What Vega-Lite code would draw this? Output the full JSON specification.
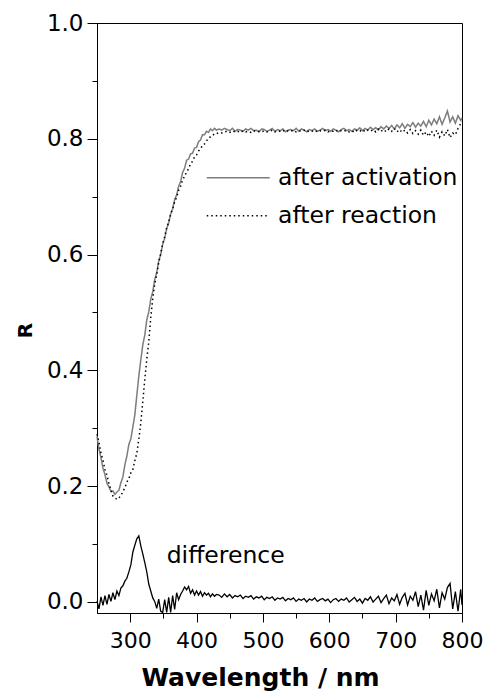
{
  "$schema": "https://vega.github.io/schema/vega-lite/v6.json",
  "width": 365,
  "height": 590,
  "autosize": {"type": "none"},
  "padding": {"left": 97, "top": 23, "right": 24, "bottom": 84},
  "background": "#ffffff",
  "config": {
    "view": {"stroke": "#000000", "strokeWidth": 1},
    "font": "DejaVu Sans",
    "axis": {"domainColor": "#000000", "tickColor": "#000000", "labelColor": "#000000", "titleColor": "#000000", "grid": false, "labelFont": "DejaVu Sans", "titleFont": "DejaVu Sans", "domainWidth": 1, "tickWidth": 1},
    "legend": {"orient": "none", "legendX": 129.5, "legendY": 143, "symbolType": "M-3,0H3", "symbolSize": 441, "symbolStrokeWidth": 1.5, "labelFont": "DejaVu Sans", "labelFontSize": 23.5, "labelColor": "#000000", "labelOffset": 28, "rowPadding": 13, "padding": 0, "labelLimit": 400}
  },
  "data": {"values": [
    {"w":250,"after activation":0.286,"after reaction":0.290,"difference":0.002},
    {"w":253,"after activation":0.264,"after reaction":0.276,"difference":-0.012},
    {"w":256,"after activation":0.249,"after reaction":0.257,"difference":0.009},
    {"w":259,"after activation":0.231,"after reaction":0.245,"difference":-0.006},
    {"w":262,"after activation":0.220,"after reaction":0.229,"difference":0.011},
    {"w":265,"after activation":0.205,"after reaction":0.219,"difference":-0.004},
    {"w":268,"after activation":0.199,"after reaction":0.204,"difference":0.013},
    {"w":271,"after activation":0.191,"after reaction":0.194,"difference":0.001},
    {"w":274,"after activation":0.192,"after reaction":0.183,"difference":0.016},
    {"w":277,"after activation":0.186,"after reaction":0.180,"difference":0.004},
    {"w":280,"after activation":0.190,"after reaction":0.177,"difference":0.019},
    {"w":283,"after activation":0.193,"after reaction":0.180,"difference":0.011},
    {"w":286,"after activation":0.206,"after reaction":0.183,"difference":0.024},
    {"w":289,"after activation":0.216,"after reaction":0.191,"difference":0.028},
    {"w":292,"after activation":0.237,"after reaction":0.197,"difference":0.036},
    {"w":295,"after activation":0.252,"after reaction":0.207,"difference":0.041},
    {"w":298,"after activation":0.272,"after reaction":0.213,"difference":0.052},
    {"w":301,"after activation":0.282,"after reaction":0.223,"difference":0.064},
    {"w":304,"after activation":0.302,"after reaction":0.229,"difference":0.086},
    {"w":307,"after activation":0.323,"after reaction":0.244,"difference":0.098},
    {"w":310,"after activation":0.357,"after reaction":0.257,"difference":0.109},
    {"w":313,"after activation":0.390,"after reaction":0.281,"difference":0.114},
    {"w":316,"after activation":0.418,"after reaction":0.309,"difference":0.097},
    {"w":319,"after activation":0.444,"after reaction":0.346,"difference":0.083},
    {"w":322,"after activation":0.461,"after reaction":0.384,"difference":0.068},
    {"w":325,"after activation":0.487,"after reaction":0.419,"difference":0.052},
    {"w":328,"after activation":0.501,"after reaction":0.449,"difference":0.031},
    {"w":331,"after activation":0.523,"after reaction":0.491,"difference":0.019},
    {"w":334,"after activation":0.536,"after reaction":0.524,"difference":0.007},
    {"w":337,"after activation":0.557,"after reaction":0.549,"difference":0.001},
    {"w":340,"after activation":0.569,"after reaction":0.566,"difference":-0.011},
    {"w":343,"after activation":0.589,"after reaction":0.586,"difference":0.005},
    {"w":346,"after activation":0.600,"after reaction":0.602,"difference":-0.016},
    {"w":349,"after activation":0.618,"after reaction":0.619,"difference":-0.018},
    {"w":352,"after activation":0.628,"after reaction":0.631,"difference":0.004},
    {"w":355,"after activation":0.645,"after reaction":0.646,"difference":-0.018},
    {"w":358,"after activation":0.655,"after reaction":0.656,"difference":0.008},
    {"w":361,"after activation":0.670,"after reaction":0.670,"difference":-0.018},
    {"w":364,"after activation":0.679,"after reaction":0.679,"difference":0.011},
    {"w":367,"after activation":0.695,"after reaction":0.691,"difference":-0.013},
    {"w":370,"after activation":0.703,"after reaction":0.699,"difference":0.016},
    {"w":373,"after activation":0.718,"after reaction":0.711,"difference":0.004},
    {"w":376,"after activation":0.726,"after reaction":0.718,"difference":0.013},
    {"w":379,"after activation":0.742,"after reaction":0.729,"difference":0.019},
    {"w":382,"after activation":0.749,"after reaction":0.735,"difference":0.026},
    {"w":385,"after activation":0.763,"after reaction":0.743,"difference":0.021},
    {"w":388,"after activation":0.765,"after reaction":0.748,"difference":0.027},
    {"w":391,"after activation":0.774,"after reaction":0.757,"difference":0.015},
    {"w":394,"after activation":0.775,"after reaction":0.761,"difference":0.021},
    {"w":397,"after activation":0.784,"after reaction":0.769,"difference":0.012},
    {"w":400,"after activation":0.785,"after reaction":0.772,"difference":0.019},
    {"w":403,"after activation":0.795,"after reaction":0.779,"difference":0.012},
    {"w":406,"after activation":0.798,"after reaction":0.782,"difference":0.018},
    {"w":409,"after activation":0.807,"after reaction":0.789,"difference":0.010},
    {"w":412,"after activation":0.807,"after reaction":0.791,"difference":0.016},
    {"w":415,"after activation":0.813,"after reaction":0.797,"difference":0.012},
    {"w":418,"after activation":0.811,"after reaction":0.799,"difference":0.015},
    {"w":421,"after activation":0.817,"after reaction":0.804,"difference":0.009},
    {"w":424,"after activation":0.814,"after reaction":0.805,"difference":0.014},
    {"w":427,"after activation":0.818,"after reaction":0.809,"difference":0.010},
    {"w":430,"after activation":0.815,"after reaction":0.809,"difference":0.013},
    {"w":434,"after activation":0.817,"after reaction":0.811,"difference":0.012},
    {"w":438,"after activation":0.815,"after reaction":0.810,"difference":0.008},
    {"w":442,"after activation":0.818,"after reaction":0.812,"difference":0.014},
    {"w":446,"after activation":0.816,"after reaction":0.813,"difference":0.009},
    {"w":450,"after activation":0.814,"after reaction":0.811,"difference":0.013},
    {"w":454,"after activation":0.818,"after reaction":0.814,"difference":0.007},
    {"w":458,"after activation":0.813,"after reaction":0.812,"difference":0.011},
    {"w":462,"after activation":0.816,"after reaction":0.813,"difference":0.009},
    {"w":466,"after activation":0.815,"after reaction":0.811,"difference":0.012},
    {"w":470,"after activation":0.813,"after reaction":0.814,"difference":0.006},
    {"w":474,"after activation":0.817,"after reaction":0.812,"difference":0.010},
    {"w":478,"after activation":0.815,"after reaction":0.813,"difference":0.008},
    {"w":482,"after activation":0.818,"after reaction":0.811,"difference":0.011},
    {"w":486,"after activation":0.814,"after reaction":0.814,"difference":0.005},
    {"w":490,"after activation":0.815,"after reaction":0.812,"difference":0.009},
    {"w":494,"after activation":0.812,"after reaction":0.813,"difference":0.007},
    {"w":498,"after activation":0.817,"after reaction":0.812,"difference":0.010},
    {"w":502,"after activation":0.816,"after reaction":0.814,"difference":0.004},
    {"w":506,"after activation":0.813,"after reaction":0.812,"difference":0.008},
    {"w":510,"after activation":0.815,"after reaction":0.813,"difference":0.006},
    {"w":514,"after activation":0.818,"after reaction":0.815,"difference":0.009},
    {"w":518,"after activation":0.813,"after reaction":0.812,"difference":0.003},
    {"w":522,"after activation":0.816,"after reaction":0.814,"difference":0.007},
    {"w":526,"after activation":0.814,"after reaction":0.813,"difference":0.005},
    {"w":530,"after activation":0.817,"after reaction":0.815,"difference":0.008},
    {"w":534,"after activation":0.812,"after reaction":0.812,"difference":0.002},
    {"w":538,"after activation":0.815,"after reaction":0.814,"difference":0.006},
    {"w":542,"after activation":0.816,"after reaction":0.813,"difference":0.004},
    {"w":546,"after activation":0.814,"after reaction":0.815,"difference":0.007},
    {"w":550,"after activation":0.818,"after reaction":0.812,"difference":0.001},
    {"w":554,"after activation":0.813,"after reaction":0.814,"difference":0.005},
    {"w":558,"after activation":0.817,"after reaction":0.813,"difference":0.003},
    {"w":562,"after activation":0.815,"after reaction":0.815,"difference":0.006},
    {"w":566,"after activation":0.812,"after reaction":0.812,"difference":0.000},
    {"w":570,"after activation":0.816,"after reaction":0.814,"difference":0.005},
    {"w":574,"after activation":0.814,"after reaction":0.813,"difference":0.003},
    {"w":578,"after activation":0.817,"after reaction":0.815,"difference":0.007},
    {"w":582,"after activation":0.813,"after reaction":0.812,"difference":0.001},
    {"w":586,"after activation":0.815,"after reaction":0.814,"difference":0.004},
    {"w":590,"after activation":0.818,"after reaction":0.813,"difference":0.006},
    {"w":594,"after activation":0.814,"after reaction":0.815,"difference":0.002},
    {"w":598,"after activation":0.816,"after reaction":0.812,"difference":0.005},
    {"w":602,"after activation":0.813,"after reaction":0.814,"difference":-0.001},
    {"w":606,"after activation":0.817,"after reaction":0.813,"difference":0.004},
    {"w":610,"after activation":0.815,"after reaction":0.815,"difference":0.006},
    {"w":614,"after activation":0.812,"after reaction":0.812,"difference":0.001},
    {"w":618,"after activation":0.816,"after reaction":0.814,"difference":0.005},
    {"w":622,"after activation":0.818,"after reaction":0.813,"difference":0.003},
    {"w":626,"after activation":0.814,"after reaction":0.815,"difference":0.007},
    {"w":630,"after activation":0.816,"after reaction":0.812,"difference":0.000},
    {"w":634,"after activation":0.813,"after reaction":0.814,"difference":0.004},
    {"w":638,"after activation":0.817,"after reaction":0.811,"difference":0.008},
    {"w":642,"after activation":0.815,"after reaction":0.815,"difference":0.001},
    {"w":646,"after activation":0.819,"after reaction":0.813,"difference":0.005},
    {"w":650,"after activation":0.814,"after reaction":0.816,"difference":-0.002},
    {"w":654,"after activation":0.818,"after reaction":0.812,"difference":0.006},
    {"w":658,"after activation":0.815,"after reaction":0.815,"difference":0.003},
    {"w":662,"after activation":0.820,"after reaction":0.813,"difference":0.009},
    {"w":666,"after activation":0.816,"after reaction":0.816,"difference":0.000},
    {"w":670,"after activation":0.819,"after reaction":0.812,"difference":0.005},
    {"w":674,"after activation":0.815,"after reaction":0.817,"difference":0.010},
    {"w":678,"after activation":0.821,"after reaction":0.813,"difference":-0.001},
    {"w":682,"after activation":0.817,"after reaction":0.816,"difference":0.006},
    {"w":686,"after activation":0.822,"after reaction":0.812,"difference":0.012},
    {"w":690,"after activation":0.818,"after reaction":0.817,"difference":-0.003},
    {"w":694,"after activation":0.823,"after reaction":0.813,"difference":0.007},
    {"w":698,"after activation":0.817,"after reaction":0.818,"difference":0.002},
    {"w":702,"after activation":0.824,"after reaction":0.812,"difference":0.013},
    {"w":706,"after activation":0.819,"after reaction":0.816,"difference":-0.004},
    {"w":710,"after activation":0.826,"after reaction":0.811,"difference":0.008},
    {"w":714,"after activation":0.818,"after reaction":0.815,"difference":0.015},
    {"w":718,"after activation":0.825,"after reaction":0.810,"difference":-0.005},
    {"w":722,"after activation":0.821,"after reaction":0.816,"difference":0.010},
    {"w":726,"after activation":0.828,"after reaction":0.809,"difference":0.003},
    {"w":730,"after activation":0.820,"after reaction":0.814,"difference":0.018},
    {"w":734,"after activation":0.827,"after reaction":0.808,"difference":-0.008},
    {"w":738,"after activation":0.822,"after reaction":0.815,"difference":0.012},
    {"w":742,"after activation":0.830,"after reaction":0.806,"difference":-0.014},
    {"w":746,"after activation":0.821,"after reaction":0.812,"difference":0.020},
    {"w":750,"after activation":0.832,"after reaction":0.804,"difference":-0.006},
    {"w":754,"after activation":0.824,"after reaction":0.813,"difference":0.014},
    {"w":758,"after activation":0.834,"after reaction":0.806,"difference":0.002},
    {"w":762,"after activation":0.826,"after reaction":0.815,"difference":0.022},
    {"w":766,"after activation":0.838,"after reaction":0.803,"difference":-0.010},
    {"w":770,"after activation":0.825,"after reaction":0.812,"difference":0.016},
    {"w":774,"after activation":0.836,"after reaction":0.805,"difference":0.005},
    {"w":778,"after activation":0.848,"after reaction":0.816,"difference":0.025},
    {"w":782,"after activation":0.829,"after reaction":0.802,"difference":0.032},
    {"w":786,"after activation":0.838,"after reaction":0.810,"difference":-0.012},
    {"w":790,"after activation":0.827,"after reaction":0.807,"difference":0.018},
    {"w":794,"after activation":0.840,"after reaction":0.818,"difference":-0.016},
    {"w":798,"after activation":0.832,"after reaction":0.826,"difference":0.022},
    {"w":800,"after activation":0.836,"after reaction":0.830,"difference":-0.005}
  ]},
  "resolve": {"axis": {"x": "independent", "y": "independent"}},
  "layer": [
    {
      "transform": [{"fold": ["after activation", "after reaction"], "as": ["series", "R"]}],
      "mark": {"type": "line", "strokeWidth": 1.5},
      "encoding": {
        "x": {"field": "w", "type": "quantitative", "scale": {"domain": [250, 800], "nice": false, "zero": false},
          "axis": {"orient": "bottom", "values": [300, 400, 500, 600, 700, 800], "tickSize": 9, "labelFontSize": 22, "labelPadding": 8, "labelFlush": false, "labelOverlap": false,
            "title": "Wavelength / nm", "titleFontSize": 25, "titleFontWeight": "bold", "titleX": 163, "titleY": 72, "titleBaseline": "alphabetic", "titleAlign": "center", "titleAnchor": "middle"}},
        "y": {"field": "R", "type": "quantitative", "scale": {"domain": [-0.019, 1.0], "nice": false, "zero": false},
          "axis": {"orient": "left", "values": [0, 0.2, 0.4, 0.6, 0.8, 1.0], "format": ".1f", "tickSize": 10, "labelFontSize": 23, "labelPadding": 4, "labelFlush": false, "labelOverlap": false,
            "title": "R", "titleFontSize": 20, "titleFontWeight": "bold", "titleAngle": -90, "titleX": -65.5, "titleY": 307, "titleBaseline": "alphabetic", "titleAlign": "center", "titleAnchor": "middle"}},
        "color": {"field": "series", "type": "nominal", "scale": {"domain": ["after activation", "after reaction"], "range": ["#7d7d7d", "#000000"]}, "legend": {"title": null}},
        "strokeDash": {"field": "series", "type": "nominal", "scale": {"domain": ["after activation", "after reaction"], "range": [[1, 0], [1.5, 3]]}, "legend": {"title": null}}
      }
    },
    {
      "mark": {"type": "line", "color": "#000000", "strokeWidth": 1.3},
      "encoding": {
        "x": {"field": "w", "type": "quantitative", "scale": {"domain": [250, 800], "nice": false, "zero": false},
          "axis": {"orient": "bottom", "values": [350, 450, 550, 650, 750], "tickSize": 5, "labels": false, "domain": false, "title": null}},
        "y": {"field": "difference", "type": "quantitative", "scale": {"domain": [-0.019, 1.0], "nice": false, "zero": false},
          "axis": {"orient": "left", "values": [0.1, 0.3, 0.5, 0.7, 0.9], "tickSize": 5, "labels": false, "domain": false, "title": null}}
      }
    },
    {
      "data": {"values": [{"label": "difference"}]},
      "mark": {"type": "text", "align": "left", "baseline": "alphabetic", "fontSize": 23.5, "font": "DejaVu Sans", "color": "#000000"},
      "encoding": {
        "x": {"datum": 355, "type": "quantitative", "axis": null},
        "y": {"datum": 0.067, "type": "quantitative", "axis": null},
        "text": {"field": "label", "type": "nominal"}
      }
    }
  ]
}
